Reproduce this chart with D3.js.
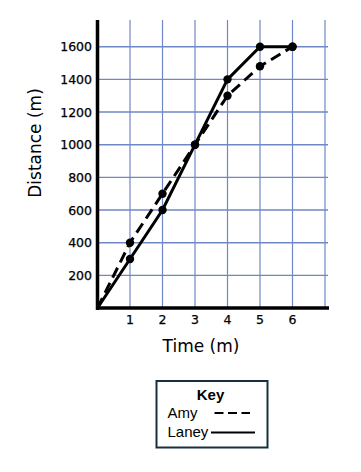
<!DOCTYPE html>
<html><head><meta charset="utf-8">
<script src="https://cdn.jsdelivr.net/npm/d3@7"></script>
<style>body{margin:0;background:#fff}</style>
</head><body>
<svg id="c" width="361" height="472"></svg>
<script>
const times = [0,1,2,3,4,5,6];
const amy = [0,400,700,1000,1300,1480,1600];
const laney = [0,300,600,1000,1400,1600,1600];
const xTicks = [1,2,3,4,5,6];
const yTicks = [200,400,600,800,1000,1200,1400,1600];
const seriesNames = ["Amy","Laney"];

const svg = d3.select("#c");
const x = d3.scaleLinear().domain([0,7]).range([97.5,325]);
const y = d3.scaleLinear().domain([0,1600]).range([308,46.7]);
const topY = 20;
const font = "'DejaVu Sans', sans-serif";
const lfont = "'Liberation Sans', Arial, sans-serif";
const grid = "#6f87c7";

// grid
svg.append("g").selectAll("line").data(d3.range(1,8)).join("line")
  .attr("x1",d=>x(d)).attr("x2",d=>x(d)).attr("y1",topY).attr("y2",308)
  .attr("stroke",grid).attr("stroke-width",1.2);
svg.append("g").selectAll("line").data(yTicks).join("line")
  .attr("x1",97).attr("x2",328).attr("y1",d=>y(d)).attr("y2",d=>y(d))
  .attr("stroke",grid).attr("stroke-width",1.4);

// axes
svg.append("line").attr("x1",97.5).attr("x2",97.5).attr("y1",topY).attr("y2",310)
  .attr("stroke","#000").attr("stroke-width",3.5);
svg.append("line").attr("x1",96).attr("x2",329).attr("y1",308).attr("y2",308)
  .attr("stroke","#000").attr("stroke-width",3.5);

// tick labels
svg.append("g").selectAll("text").data(yTicks).join("text")
  .attr("x",92).attr("y",d=>y(d)+4.5).attr("text-anchor","end")
  .attr("font-family",font).attr("font-size",12.5)
  .attr("stroke","#000").attr("stroke-width",0.25).text(d=>d);
svg.append("g").selectAll("text").data(xTicks).join("text")
  .attr("x",d=>x(d)).attr("y",324).attr("text-anchor","middle")
  .attr("font-family",font).attr("font-size",12.5)
  .attr("stroke","#000").attr("stroke-width",0.25).text(d=>d);

// axis titles
svg.append("text").attr("x",201).attr("y",352).attr("text-anchor","middle")
  .attr("font-family",font).attr("font-size",17).text("Time (m)");
svg.append("text").attr("transform","translate(41,143) rotate(-90)").attr("text-anchor","middle")
  .attr("font-family",font).attr("font-size",17).text("Distance (m)");

// lines
const line = d3.line().x((d,i)=>x(times[i])).y(d=>y(d));
svg.append("path").datum(laney).attr("d",line).attr("fill","none")
  .attr("stroke","#000").attr("stroke-width",3);
svg.append("path").datum(amy).attr("d",line).attr("fill","none")
  .attr("stroke","#000").attr("stroke-width",3).attr("stroke-dasharray","11,6");

// dots (skip origin)
[laney, amy].forEach(s=>{
  svg.append("g").selectAll("circle").data(s.slice(1)).join("circle")
    .attr("cx",(d,i)=>x(times[i+1])).attr("cy",d=>y(d)).attr("r",4.2).attr("fill","#000");
});

// legend
const lg = svg.append("g");
lg.append("rect").attr("x",156.5).attr("y",381).attr("width",111).attr("height",66.5)
  .attr("fill","#fff").attr("stroke","#17303d").attr("stroke-width",2);
lg.append("text").attr("x",210.5).attr("y",400).attr("text-anchor","middle")
  .attr("font-family",lfont).attr("font-weight","bold").attr("font-size",15).text("Key");
lg.append("text").attr("x",167.5).attr("y",417.5)
  .attr("font-family",lfont).attr("font-size",15).text(seriesNames[0]);
lg.append("text").attr("x",167.5).attr("y",436.5)
  .attr("font-family",lfont).attr("font-size",15).text(seriesNames[1]);
lg.append("line").attr("x1",214.5).attr("x2",250).attr("y1",413).attr("y2",413)
  .attr("stroke","#000").attr("stroke-width",2.2).attr("stroke-dasharray","9,4.5");
lg.append("line").attr("x1",211).attr("x2",255).attr("y1",432.5).attr("y2",432.5)
  .attr("stroke","#000").attr("stroke-width",2.2);
</script>
</body></html>
